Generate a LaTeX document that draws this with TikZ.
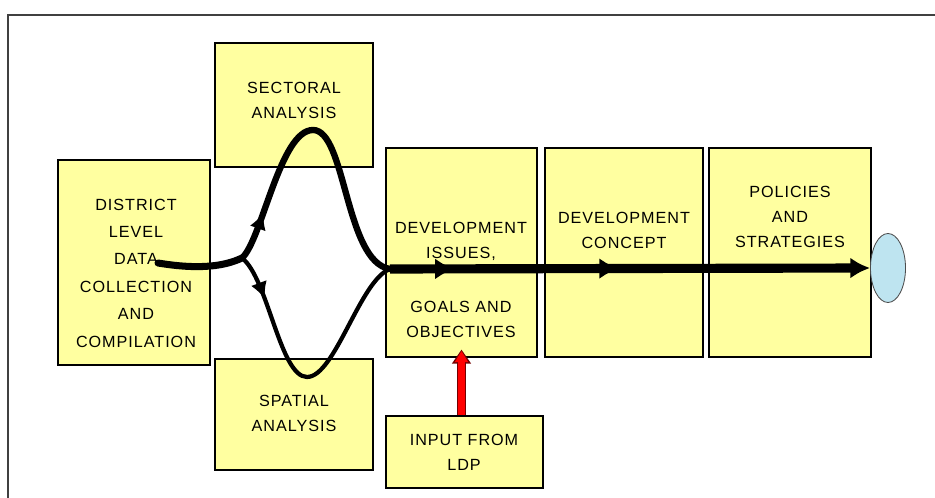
\documentclass[tikz,border=0pt]{standalone}
\usepackage{fontspec}
\newfontfamily\boxfont{Liberation Sans}[LetterSpace=6]
\usepackage{tikz}
\usetikzlibrary{arrows.meta}
\usetikzlibrary{decorations.markings}
\usetikzlibrary{shapes.geometric}
\definecolor{padyellow}{RGB}{255,255,160}
\definecolor{ovalblue}{RGB}{190,228,240}
\tikzset{
  panel/.style={draw=black,line width=1.4pt,fill=padyellow,inner sep=0pt},
  lbl/.style={font=\boxfont\fontsize{11.5}{17.8}\selectfont,align=center,inner sep=0pt},
  flow/.style={line width=#1,line cap=round},
  midtip/.style={postaction={decorate},decoration={markings,
     mark=at position #1 with {\arrow{Latex[length=12pt,width=12pt]}}}}
}

\begin{document}
\begin{tikzpicture}[x=0.025cm,y=-0.025cm]
\useasboundingbox (0,0) rectangle (935,498);
%frame
\draw [line width=1.4pt,black!75] (8,498) -- (8,15) -- (935,15);
%boxes
\node [panel,minimum width=3.8cm,minimum height=5.125cm] (district) at (134,262.5) {};
\node [panel,minimum width=3.95cm,minimum height=3.1cm] (sectoral) at (294,105) {};
\node [panel,minimum width=3.95cm,minimum height=2.775cm] (spatial) at (294,414.5) {};
\node [panel,minimum width=3.775cm,minimum height=5.225cm] (issues) at (461.5,252.5) {};
\node [panel,minimum width=3.95cm,minimum height=5.225cm] (concept) at (624,252.5) {};
\node [panel,minimum width=4.05cm,minimum height=5.225cm] (policies) at (790,252.5) {};
\node [panel,minimum width=3.925cm,minimum height=1.8cm] (input) at (464.5,452) {};
\node [ellipse,draw=black!70,fill=ovalblue,line width=0.6pt,inner sep=0pt,
       minimum width=0.875cm,minimum height=1.725cm] (goal) at (888,268) {};
%texts
\node [lbl,font=\boxfont\fontsize{11.5}{19.5}\selectfont] (t-district) at (136,273)
  {DISTRICT\\LEVEL\\DATA\\COLLECTION\\AND\\COMPILATION};
\node [lbl] (t-sectoral) at (294,100) {SECTORAL\\ANALYSIS};
\node [lbl] (t-spatial) at (294,413) {SPATIAL\\ANALYSIS};
\node [lbl] (t-issues) at (461,280) {DEVELOPMENT\\ISSUES,\\[20pt]GOALS AND\\OBJECTIVES};
\node [lbl] (t-concept) at (624,230) {DEVELOPMENT\\CONCEPT};
\node [lbl] (t-policies) at (790,217) {POLICIES\\AND\\STRATEGIES};
\node [lbl] (t-input) at (464,452) {INPUT FROM\\LDP};
%flow
\coordinate (src) at (158,263);
\coordinate (fork) at (242,258);
\coordinate (merge) at (390,269);
\draw [flow=5pt] (src) .. controls (200,270) and (225,266) .. (fork);
\draw [flow=4.5pt,midtip=0.16] (fork) .. controls (262,240) and (280,130) .. (313,130)
  .. controls (346,130) and (345,262) .. (merge);
\draw [flow=3pt,midtip=0.17] (fork) .. controls (268,278) and (280,377) .. (307,377)
  .. controls (335,377) and (360,280) .. (merge);
\draw [line width=6.5pt,-{Latex[length=14pt,width=15pt]},postaction={decorate},
       decoration={markings,
         mark=at position 0.135 with {\arrow{Latex[length=14pt,width=15pt]}},
         mark=at position 0.477 with {\arrow{Latex[length=14pt,width=15pt]}}}]
  (merge) -- (goal.west);
%ldp input
\draw [line width=7pt,red!45!black,-{Triangle[length=10pt,width=13pt]},shorten >=-6pt]
  (issues.south |- input.north) -- (issues.south);
\draw [line width=4.5pt,red,-{Triangle[length=8pt,width=9pt]},shorten >=-5pt]
  (issues.south |- input.north) -- (issues.south);
\end{tikzpicture}
\end{document}
